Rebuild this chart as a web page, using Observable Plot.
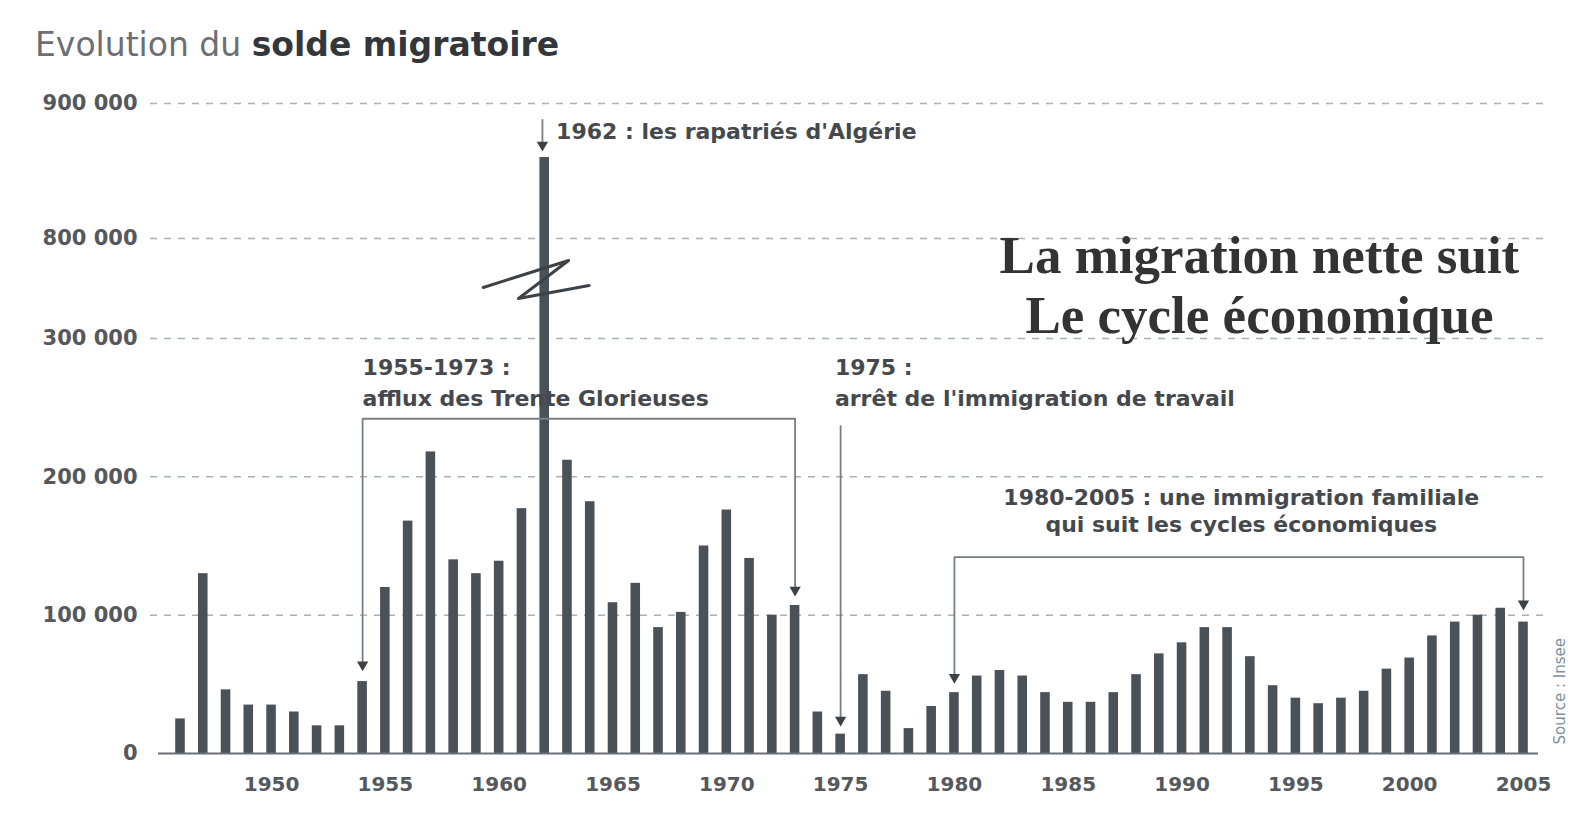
<!DOCTYPE html>
<html>
<head>
<meta charset="utf-8">
<script src="https://cdn.jsdelivr.net/npm/d3@7"></script>
<script src="https://cdn.jsdelivr.net/npm/@observablehq/plot@0.6"></script>
<style>
  body { margin: 0; background: #ffffff; }
  #title { position: relative; height: 80px; width: 1576px; }
  #title span { position: absolute; left: 35px; top: 28px; font-family: "DejaVu Sans", sans-serif; font-size: 33px; line-height: 33px; color: #6b6f73; white-space: nowrap; }
  #title b { color: #33373b; }
</style>
</head>
<body>
<div id="title"><span>Evolution du <b>solde migratoire</b></span></div>
<div id="chart"></div>
<script>
// Years (categories)
const years = [1946,1947,1948,1949,1950,1951,1952,1953,1954,1955,1956,1957,1958,1959,1960,
  1961,1962,1963,1964,1965,1966,1967,1968,1969,1970,1971,1972,1973,1974,1975,
  1976,1977,1978,1979,1980,1981,1982,1983,1984,1985,1986,1987,1988,1989,1990,
  1991,1992,1993,1994,1995,1996,1997,1998,1999,2000,2001,2002,2003,2004,2005];
// Net migration (solde migratoire), persons
const solde = [25000,130000,46000,35000,35000,30000,20000,20000,52000,120000,168000,218000,140000,130000,139000,
  177000,860000,212000,182000,109000,123000,91000,102000,150000,176000,141000,100000,107000,30000,14000,
  57000,45000,18000,34000,44000,56000,60000,56000,44000,37000,37000,44000,57000,72000,80000,
  91000,91000,70000,49000,40000,36000,40000,45000,61000,69000,85000,95000,100000,105000,95000];

// Axis ticks
const yTicks = [0,100000,200000,300000,800000,900000];
const gridValues = [100000,200000,300000,800000,900000];
const xTicks = [1950,1955,1960,1965,1970,1975,1980,1985,1990,1995,2000,2005];

// Axis break symbol (in data units, inside the broken segment)
const breakMark = [
  {year:1959.3, value:555000},
  {year:1963.05, value:690000},
  {year:1960.85, value:500000},
  {year:1963.95, value:565000}
];

// Annotation brackets (polylines), in data units
const bracketTrente = [
  {year:1954, value:62000},{year:1954, value:242000},{year:1973, value:242000},{year:1973, value:116000}
];
const bracketFamille = [
  {year:1980, value:53000},{year:1980, value:142000},{year:2005, value:142000},{year:2005, value:106000}
];
const arrowLines = [
  {x:1975, y1:237000, y2:22000},
  {x:1961.9, y1:888000, y2:867000}
];
const arrowTips = [
  {year:1954, value:62000},{year:1973, value:116000},
  {year:1980, value:53000},{year:2005, value:106000},
  {year:1975, value:22000},{year:1961.9, value:867000}
];

// Annotation texts
const notesLeft = [
  {year:1954, value:279000, text:"1955-1973 :"},
  {year:1954, value:256000, text:"afflux des Trente Glorieuses"},
  {year:1974.75, value:279000, text:"1975 :"},
  {year:1974.75, value:256000, text:"arrêt de l'immigration de travail"},
  {year:1962.5, value:879000, text:"1962 : les rapatriés d'Algérie"}
];
const notesCenter = [
  {year:1992.6, value:185000, text:"1980-2005 : une immigration familiale"},
  {year:1992.6, value:165500, text:"qui suit les cycles économiques"}
];
const headline = [
  {year:1993.4, value:712000, text:"La migration nette suit"},
  {year:1993.4, value:412000, text:"Le cycle économique"}
];
const sourceNote = [{year:2006.6, value:45000, text:"Source : Insee"}];

const data = years.map((y, i) => ({year: y, value: solde[i]}));
const fmt = d => d3.format(",")(d).replace(/,/g, " ");

const chart = Plot.plot({
  width: 1576,
  height: 733,
  marginLeft: 150,
  marginRight: 31,
  marginTop: 0,
  marginBottom: 60,
  x: {type: "linear", domain: [1946, 2005], range: [180, 1523]},
  y: {type: "linear", domain: [0, 300000, 800000, 900000], range: [673, 258, 158, 23]},
  style: {fontFamily: "DejaVu Sans, sans-serif", background: "#ffffff", overflow: "visible"},
  marks: [
    Plot.ruleY(gridValues, {stroke: "#a9b0b6", strokeWidth: 1.5, strokeDasharray: "7,7"}),
    Plot.rect(data, {
      x1: d => d.year - 0.5, x2: d => d.year + 0.5, y1: 0, y2: "value",
      insetLeft: 6.6, insetRight: 6.6, fill: "#4a5157"
    }),
    Plot.ruleY([0], {stroke: "#6b7075", strokeWidth: 2, insetLeft: 8, insetRight: 7}),
    Plot.line(breakMark, {x: "year", y: "value", stroke: "#3d4247", strokeWidth: 3}),
    Plot.line(bracketTrente, {x: "year", y: "value", stroke: "#7a7f84", strokeWidth: 1.8}),
    Plot.line(bracketFamille, {x: "year", y: "value", stroke: "#7a7f84", strokeWidth: 1.8}),
    Plot.ruleX(arrowLines, {x: "x", y1: "y1", y2: "y2", stroke: "#7a7f84", strokeWidth: 1.8}),
    Plot.dot(arrowTips, {x: "year", y: "value", symbol: "triangle", rotate: 180, r: 4.2, fill: "#3d4247", stroke: "none", dy: -3}),
    Plot.text(notesLeft, {x: "year", y: "value", text: "text", textAnchor: "start", fontSize: 22, fontWeight: "bold", fill: "#45494d"}),
    Plot.text(notesCenter, {x: "year", y: "value", text: "text", textAnchor: "middle", fontSize: 22, fontWeight: "bold", fill: "#45494d"}),
    Plot.text(headline, {x: "year", y: "value", text: "text", textAnchor: "middle", fontSize: 53, fontWeight: "bold", fontFamily: "Liberation Serif, serif", fill: "#333333"}),
    Plot.text(sourceNote, {x: "year", y: "value", text: "text", rotate: -90, fontSize: 15, fill: "#7f8fa0"}),
    Plot.axisY({ticks: yTicks, tickSize: 0, tickPadding: 13, tickFormat: fmt, fontSize: 21, fontWeight: "bold", fill: "#55595d", label: null}),
    Plot.axisX({ticks: xTicks, tickSize: 0, tickPadding: 23, tickFormat: d => String(d), fontSize: 20, fontWeight: "bold", fill: "#55595d", label: null})
  ]
});
document.getElementById("chart").appendChild(chart);
</script>
</body>
</html>
